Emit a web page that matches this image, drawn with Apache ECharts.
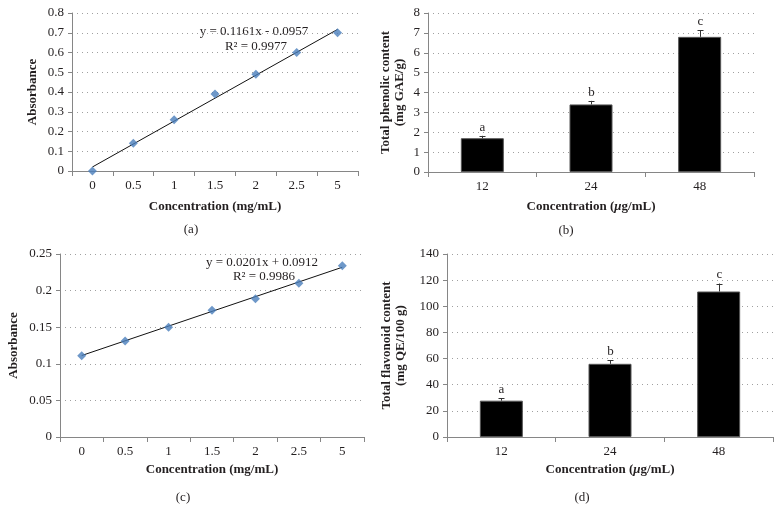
<!DOCTYPE html>
<html><head><meta charset="utf-8">
<script src="https://cdn.jsdelivr.net/npm/echarts@6/dist/echarts.min.js"></script>
<style>html,body{margin:0;padding:0;background:#fff}#c{width:782px;height:523px}</style>
</head><body><div id="c"></div>
<script>
// ---- data ----
const catConc = ['0', '0.5', '1', '1.5', '2', '2.5', '5'];
const absA = [0, 0.14, 0.26, 0.39, 0.49, 0.60, 0.70];
const trendA = [0.0204, 0.7170];          // trendline ends (first & last category)
const eqA = 'y = 0.1161x - 0.0957';
const r2A = 'R² = 0.9977';

const absC = [0.111, 0.131, 0.150, 0.173, 0.189, 0.210, 0.234];
const trendC = [0.1113, 0.2319];
const eqC = 'y = 0.0201x + 0.0912';
const r2C = 'R² = 0.9986';

const catDose = ['12', '24', '48'];
const phenolic = [1.70, 3.40, 6.80];
const phenolicErr = [1.82, 3.58, 7.14];   // top of error bars
const flavonoid = [27.8, 56.0, 111.3];
const flavonoidErr = [29.6, 58.8, 117.4];
const letters = ['a', 'b', 'c'];

const yTicksA = {min: 0, max: 0.8, interval: 0.1};
const yTicksB = {min: 0, max: 8, interval: 1};
const yTicksC = {min: 0, max: 0.25, interval: 0.05};
const yTicksD = {min: 0, max: 140, interval: 20};

// ---- styling ----
const FONT = '"Liberation Serif", "DejaVu Serif", serif';
const TXT = '#231f20';
const AX = '#868686';
const FS = 13;

function xAx(idx, cats, name, gap) {
  return {
    type: 'category', gridIndex: idx, data: cats, boundaryGap: true,
    axisLine: {show: true, lineStyle: {color: AX, width: 1}},
    axisTick: {show: true, length: 5, lineStyle: {color: AX}},
    axisLabel: {color: TXT, fontFamily: FONT, fontSize: FS, margin: 8},
    splitLine: {show: false},
    name: name, nameLocation: 'middle', nameGap: gap,
    nameTextStyle: {
      color: TXT, fontFamily: FONT, fontSize: FS, fontWeight: 'bold',
      rich: {
        b: {color: TXT, fontFamily: FONT, fontSize: FS, fontWeight: 'bold'},
        i: {color: TXT, fontFamily: FONT, fontSize: FS, fontWeight: 'bold', fontStyle: 'italic'}
      }
    }
  };
}
function yAx(idx, t, name, gap) {
  return {
    type: 'value', gridIndex: idx, min: t.min, max: t.max, interval: t.interval,
    axisLine: {show: true, lineStyle: {color: AX, width: 1}},
    axisTick: {show: true, length: 4, lineStyle: {color: AX}},
    axisLabel: {color: TXT, fontFamily: FONT, fontSize: FS, margin: 8},
    splitLine: {show: true, lineStyle: {color: '#a0a0a0', width: 1, type: [1, 4]}},
    name: name, nameLocation: 'middle', nameGap: gap, nameRotate: 90,
    nameTextStyle: {color: TXT, fontFamily: FONT, fontSize: FS, fontWeight: 'bold', lineHeight: 14}
  };
}

function errSeries(xi, yi, vals, tops) {
  return {
    type: 'custom', xAxisIndex: xi, yAxisIndex: yi, z: 5,
    data: vals.map((v, i) => [i, v, tops[i]]),
    encode: {x: 0, y: [1, 2]},
    renderItem: function (params, api) {
      const i = api.value(0);
      const base = api.coord([i, api.value(1)]);
      const top = api.coord([i, api.value(2)]);
      const x = Math.round(base[0]) + 0.5;
      return {
        type: 'group', children: [
          {type: 'line', shape: {x1: x, y1: base[1], x2: x, y2: top[1]}, style: {stroke: '#333', lineWidth: 1}},
          {type: 'line', shape: {x1: x - 3, y1: Math.round(top[1]) + 0.5, x2: x + 3, y2: Math.round(top[1]) + 0.5}, style: {stroke: '#333', lineWidth: 1}},
          {type: 'text', x: x, y: top[1] - 2, style: {text: letters[i], fill: TXT, font: FS + 'px ' + FONT, align: 'center', verticalAlign: 'bottom'}}
        ]
      };
    }
  };
}

function txt(x, y, s) {
  return {type: 'text', x: x, y: y, style: {text: s, fill: TXT, font: FS + 'px ' + FONT, align: 'center', verticalAlign: 'middle'}};
}

const grids = [
  {left: 72, top: 13, width: 286, height: 158},
  {left: 428, top: 13, width: 326, height: 159},
  {left: 60, top: 254, width: 304, height: 183},
  {left: 447, top: 254, width: 326, height: 183}
];

const option = {
  animation: false,
  backgroundColor: '#fff',
  grid: grids.map(g => Object.assign({containLabel: false}, g)),
  xAxis: [
    xAx(0, catConc, 'Concentration (mg/mL)', 29),
    xAx(1, catDose, '{b|Concentration (}{i|μ}{b|g/mL)}', 28),
    xAx(2, catConc, 'Concentration (mg/mL)', 26),
    xAx(3, catDose, '{b|Concentration (}{i|μ}{b|g/mL)}', 26)
  ],
  yAxis: [
    yAx(0, yTicksA, 'Absorbance', 32),
    yAx(1, yTicksB, 'Total phenolic content\n(mg GAE/g)', 21),
    yAx(2, yTicksC, 'Absorbance', 39),
    yAx(3, yTicksD, 'Total flavonoid content\n(mg QE/100 g)', 39)
  ],
  series: [
    {type: 'line', xAxisIndex: 0, yAxisIndex: 0, data: [[0, trendA[0]], [catConc.length - 1, trendA[1]]],
      symbol: 'none', lineStyle: {color: '#111', width: 1}, z: 3, silent: true},
    {type: 'scatter', xAxisIndex: 0, yAxisIndex: 0, data: absA, symbol: 'diamond', symbolSize: 9,
      itemStyle: {color: '#4a7ebb'}, z: 4},
    {type: 'line', xAxisIndex: 2, yAxisIndex: 2, data: [[0, trendC[0]], [catConc.length - 1, trendC[1]]],
      symbol: 'none', lineStyle: {color: '#111', width: 1}, z: 3, silent: true},
    {type: 'scatter', xAxisIndex: 2, yAxisIndex: 2, data: absC, symbol: 'diamond', symbolSize: 9,
      itemStyle: {color: '#4a7ebb'}, z: 4},
    {type: 'bar', xAxisIndex: 1, yAxisIndex: 1, data: phenolic, barWidth: 43,
      itemStyle: {color: '#000', borderColor: '#555', borderWidth: 1}},
    errSeries(1, 1, phenolic, phenolicErr),
    {type: 'bar', xAxisIndex: 3, yAxisIndex: 3, data: flavonoid, barWidth: 43,
      itemStyle: {color: '#000', borderColor: '#555', borderWidth: 1}},
    errSeries(3, 3, flavonoid, flavonoidErr)
  ],
  graphic: [
    txt(254, 32, eqA),
    txt(256, 47, r2A),
    txt(262, 263, eqC),
    txt(264, 277, r2C),
    txt(191, 230, '(a)'),
    txt(566, 231, '(b)'),
    txt(183, 498, '(c)'),
    txt(582, 498, '(d)')
  ]
};
const chart = echarts.init(document.getElementById('c'), null, {renderer: 'canvas'});
chart.setOption(option);
</script></body></html>
